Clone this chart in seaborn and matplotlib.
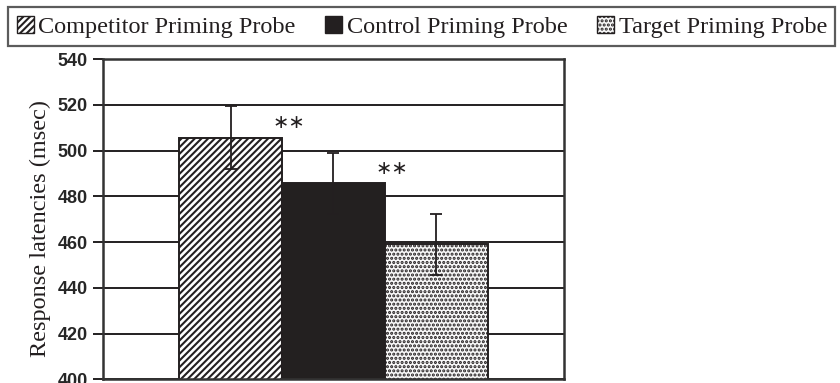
import pandas as pd
import matplotlib
matplotlib.use("Agg")
import matplotlib.pyplot as plt
import seaborn as sns
from matplotlib.patches import Patch

# Values
probes = ["Competitor Priming Probe", "Control Priming Probe", "Target Priming Probe"]
latencies = [505.7, 485.7, 459.0]
errors = [13.9, 13.4, 13.3]
marks = ["\u2217\u2217", "\u2217\u2217", ""]
y_ticks = [400, 420, 440, 460, 480, 500, 520, 540]

fills = ["white", "#231f20", "#f8f8f8"]
hatches = ["/////", None, "...."]
hatch_cols = ["#231f20", "#231f20", "#b3b3b3"]

df = pd.DataFrame({"group": ["all"] * 3, "probe": probes, "latency": latencies})

sns.set_style("white")
plt.rcParams["font.family"] = ["Liberation Serif", "DejaVu Serif"]
plt.rcParams["hatch.linewidth"] = 1.5

fig = plt.figure(figsize=(8.4, 3.83), dpi=100)
ax = fig.add_axes([0.1226, 0.0099, 0.5488, 0.8353])

sns.barplot(data=df, x="group", y="latency", hue="probe", hue_order=probes,
            palette=fills, width=0.67, edgecolor="#231f20", linewidth=1.4,
            legend=False, ax=ax, zorder=2)

bars = ax.patches[:3]
for bar, h, hc in zip(bars, hatches, hatch_cols):
    if h:
        bar.set_hatch(h)
        try:
            bar.set_hatchcolor(hc)
        except AttributeError:
            pass

# error bars and significance marks
centers = [b.get_x() + b.get_width() / 2 for b in bars]
ax.errorbar(centers, latencies, yerr=errors, fmt="none", ecolor="#231f20",
            elinewidth=1.3, capsize=4.5, capthick=1.3, zorder=4)
for b, val, m in zip(bars, latencies, marks):
    if m:
        ax.text(b.get_x() + b.get_width() + 0.014, val + 6.5, m,
                family=["DejaVu Sans"], fontsize=14, ha="center", va="center",
                color="#231f20", zorder=5)

ax.set_ylim(400, 540)
ax.set_xlim(-0.5, 0.5)
ax.set_yticks(y_ticks)
ax.set_xticks([])
ax.set_xlabel("")
ax.yaxis.grid(True, color="#231f20", linewidth=1.4, zorder=0)
ax.set_axisbelow(True)
for lab in ax.get_yticklabels():
    lab.set_family(["Liberation Sans", "DejaVu Sans"])
    lab.set_fontweight("bold")
    lab.set_fontsize(13)
ax.tick_params(axis="y", direction="out", length=7, width=1.4, pad=4,
               color="#231f20", left=True)
for sp in ax.spines.values():
    sp.set_color("#333333")
    sp.set_linewidth(1.8)

ax.set_ylabel("Response latencies (msec)", fontsize=17.5, color="#231f20")
ax.yaxis.set_label_coords(-0.112, 0.47)

handles = [Patch(facecolor=f, edgecolor="#231f20", hatch=h, linewidth=1.0)
           for f, h in zip(fills, hatches)]
leg = fig.legend(handles, probes, loc="upper left",
                 bbox_to_anchor=(8 / 840, 1 - 7 / 383), ncol=3, frameon=True,
                 fancybox=False, edgecolor="#333333", fontsize=17.5,
                 handlelength=0.7, handleheight=0.7, handletextpad=0.2,
                 columnspacing=1.2, borderpad=0.35, borderaxespad=0)
leg.get_frame().set_linewidth(1.6)
for t in leg.get_texts():
    t.set_color("#231f20")

plt.savefig("out.png", dpi=100)
